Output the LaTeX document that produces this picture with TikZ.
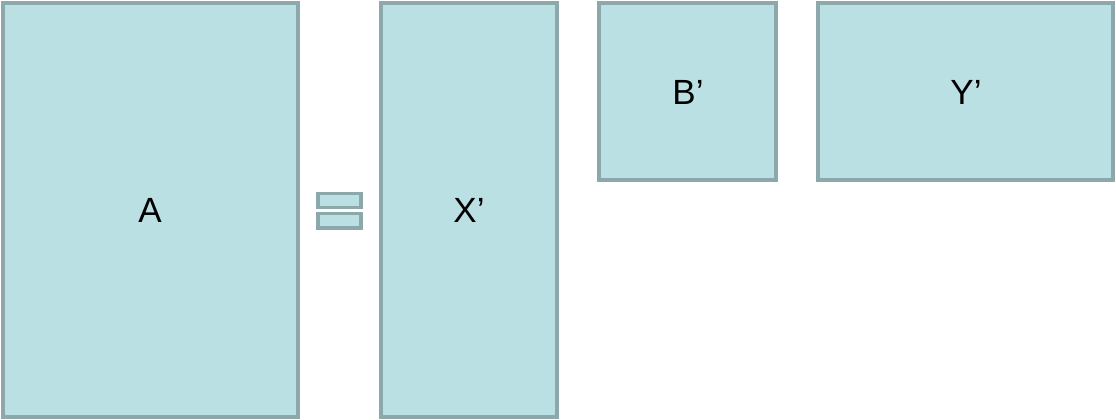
\documentclass[tikz,border=0pt]{standalone}
\usepackage{fontspec}
\setmainfont{Liberation Sans}
\definecolor{boxfill}{RGB}{187,224,227}
\definecolor{boxline}{RGB}{140,168,170}
\begin{document}
\begin{tikzpicture}[x=1pt,y=-1pt,
  mbox/.style={draw=boxline,fill=boxfill,line width=3.4pt},
  lbl/.style={font=\fontsize{35}{40}\selectfont,text=black,inner sep=0pt}]
\useasboundingbox (0,0) rectangle (1116,420);
\draw[mbox] (3,3) rectangle (298,417);
\draw[mbox] (381,3) rectangle (557,417);
\draw[mbox] (599,3) rectangle (776,180);
\draw[mbox] (818,3) rectangle (1113,180);
\draw[mbox] (318,193.5) rectangle (361,207.5);
\draw[mbox] (318,213.5) rectangle (361,228);
\node[lbl] (A) at (150,210) {A};
\node[lbl] (X) at (469,210) {X’};
\node[lbl] (B) at (688,92) {B’};
\node[lbl] (Y) at (966,92) {Y’};
\end{tikzpicture}
\end{document}
